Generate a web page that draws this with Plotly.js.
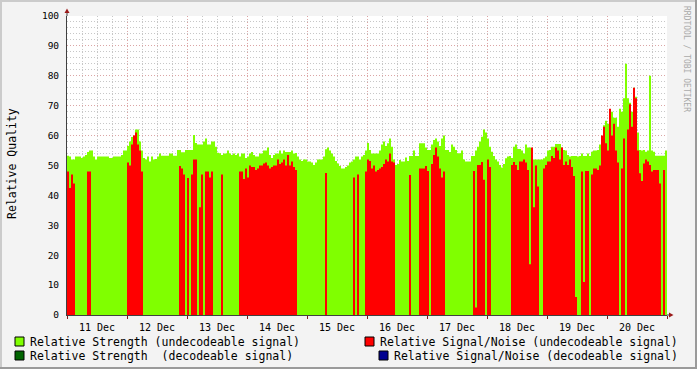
<!DOCTYPE html>
<html>
<head>
<meta charset="utf-8">
<script src="https://cdn.plot.ly/plotly-3.0.1.min.js"></script>
<style>html,body{margin:0;padding:0;background:#f3f3f3;}#chart{width:697px;height:369px;}</style>
</head>
<body>
<div id="chart"></div>
<script>
// Time base: 11 Dec 00:00, one sample every 48 minutes (300 samples = 10 days)
const startTime = Date.UTC(2013, 11, 11);
const endTime = Date.UTC(2013, 11, 21);
const stepMs = 48 * 60 * 1000;

// Relative Strength (undecodeable signal)
const strengthUndecodeable = [
  53.3,53,52,52,53,53,53,52.5,53,53.5,
  54.5,55,55,53,52,53,53,53,53,53,
  53,52.5,52.5,53,53,53,53,53.5,55,55,
  56.5,58,59.5,60,62,62,58,55,52.5,52,
  53,51.3,53,52,52.2,53,54,53.3,53.3,53.3,
  53.3,54,54,53.3,53.3,55.2,55.2,54.4,54.4,55.2,
  55.2,55.2,55.2,60.2,57.5,57,57,57,58,59,
  57,57,58,58,56.3,54.3,54.1,53.5,54,54,
  55,54,53.5,54,53.5,54,53,54,54,52.5,
  53,54,54.5,53.5,53,53,54,54,55,55,
  56,53.5,52.5,53.5,54,54,55,54,55,54.5,
  54.5,54.5,55,54,54.2,53,52,51.5,52,52,
  51.3,51.3,51,50.2,51,52,52,52,53,55.4,
  56,55,54,53,51.5,50.7,49.8,49,49,49.5,
  50,51,51.3,52,53,53,52,53,53.5,55,
  57.5,55.2,54,54,54,54,55,57,58,56.5,
  57.4,59,56.3,52,50.2,50.5,51.8,51.3,51.3,52.7,
  51.5,53.2,53.2,55,53.2,53.2,57.4,57.4,57.4,56,
  55.2,55.2,57,58.5,59,58,56.5,59,60,55.2,
  55.2,54.5,57,56.3,55.2,54.1,54.1,55,52,51.3,
  51.3,51.3,53.2,53.2,55,56.3,58,59.6,62,61,
  59,56.3,54.6,53.2,52,51.3,50.2,49.3,50.5,52.4,
  53,53.2,52.5,56.3,57,55.5,55.5,55,54,57,
  56,56,53,52,52,52,52,52,52.4,53,
  55,55.2,56.3,56.3,57.2,57.2,57.2,56,55.2,55,
  53.5,53,53.2,53.2,53.2,53,53.2,54,53.2,53.2,
  54,53.2,54.6,55,55,55.2,57,59,63.5,65,
  64,68,68,66,66,63,69,68,72.5,84,
  72.5,71,68,76,73,61,55.2,55,55.2,54.6,
  55,80,55,54.6,53.3,53.3,53.3,53.3,53.3,55
];

// Relative Signal/Noise (undecodeable signal)
const snrUndecodeable = [
  48,42.5,47,44,0,0,0,0,0,0,
  48,48,0,0,0,0,0,0,0,0,
  0,0,0,0,0,0,0,0,0,0,
  51,50,57,60,61,57,55,48,0,0,
  0,0,0,0,0,0,0,0,0,0,
  0,0,0,0,0,0,49.8,49,47,0,
  45.8,0,47,52,52,0,36,47,0,48,
  48,46,48,0,0,0,0,47,0,0,
  0,0,0,0,0,0,48,48,45.5,49,
  46,50,49.5,49.5,48.5,49,50,50,50.7,51,
  50,49,49.5,50,50,52,50.5,51,52,50,
  53.5,50,51.3,49.5,48.5,0,0,0,0,0,
  0,0,0,0,0,0,0,0,0,47.5,
  0,0,0,0,0,0,0,0,0,0,
  0,0,0,46,0,47,0,0,0,48,
  52,51.5,49,50,48,48.5,49,49.5,50.5,52,
  51.3,54,51.3,51,0,0,0,0,0,0,
  0,46.8,0,0,0,0,49,49,49,49.8,
  48.2,0,50.5,53.5,56,53,49,46,48,0,
  0,0,0,0,0,0,0,0,0,0,
  0,0,0,48.2,2.5,50.2,50.2,51.2,45.2,0,
  52,49.5,0,0,0,0,0,0,0,0,
  0,0,50.2,51.2,50.2,48.5,51.3,51.3,52,51,
  48.5,17,56,36,50,43,0,0,49,50.2,
  51.3,51.3,53.2,52.5,56,55,52,56,50.2,51.3,
  50.2,52,49.5,46.5,6,0,0,48,11,48.2,
  48.2,0,47,49,49,48.5,50,60,63,57.4,
  55,69,60,64,55,51,0,49,59,0,
  62,70.5,63,76,72.5,55,47.4,44.8,50.7,52,
  51.3,50.2,48,48.5,48.5,48.5,44,0,48.5,0
];

const legendLabels = [
  'Relative Strength (undecodeable signal)',
  'Relative Signal/Noise (undecodeable signal)',
  'Relative Strength \u00a0(decodeable signal)',
  'Relative Signal/Noise (decodeable signal)'
];
const legendColors = ['#80ff00', '#ff0000', '#006400', '#000090'];

const sampleTimes = strengthUndecodeable.map((_, i) => startTime + i * stepMs);

const traces = [
  {type: 'bar', x: sampleTimes, y: strengthUndecodeable, width: stepMs, offset: 0,
   name: legendLabels[0], marker: {color: legendColors[0], line: {width: 0}}, hoverinfo: 'skip'},
  {type: 'bar', x: sampleTimes, y: snrUndecodeable, width: stepMs, offset: 0,
   name: legendLabels[1], marker: {color: legendColors[1], line: {width: 0}}, hoverinfo: 'skip'}
];

// helpers for paper coordinates from the plot box (600 x 299 px)
const W = 600, H = 299, L = 67, T = 16;
const px = X => (X - L) / W;
const py = Y => (T + H - Y) / H;

const mono = 'DejaVu Sans Mono, monospace';
const majorGrid = 'rgba(170,40,40,0.42)';
const minorGrid = 'rgba(130,130,130,0.45)';

const shapes = [];
const annotations = [];

// legend boxes and labels
const legendPos = [
  {sx: 15, sy: 337, tx: 28},
  {sx: 365, sy: 337, tx: 378},
  {sx: 15, sy: 351, tx: 28},
  {sx: 379, sy: 351, tx: 392}
];
legendPos.forEach((p, k) => {
  shapes.push({type: 'rect', xref: 'paper', yref: 'paper',
    x0: px(p.sx), x1: px(p.sx + 9), y0: py(p.sy + 9), y1: py(p.sy),
    fillcolor: legendColors[k], line: {color: '#000', width: 1}});
  annotations.push({xref: 'paper', yref: 'paper', x: px(p.tx), y: py(p.sy + 4.5),
    xanchor: 'left', yanchor: 'middle', showarrow: false, text: legendLabels[k],
    font: {family: mono, size: 11.5, color: '#000'}});
});

// axis arrows
shapes.push({type: 'line', xref: 'paper', yref: 'paper', x0: 0, x1: 0, y0: 1, y1: py(12),
  line: {color: '#404040', width: 1}});
shapes.push({type: 'path', xref: 'paper', yref: 'paper',
  path: `M ${px(64.5)} ${py(13)} L ${px(69.5)} ${py(13)} L ${px(67)} ${py(8.5)} Z`,
  fillcolor: '#9a1a1a', line: {width: 0}});
shapes.push({type: 'line', xref: 'paper', yref: 'paper', x0: 1, x1: px(670), y0: 0, y1: 0,
  line: {color: '#404040', width: 1}});
shapes.push({type: 'path', xref: 'paper', yref: 'paper',
  path: `M ${px(669)} ${py(312.5)} L ${px(669)} ${py(317.5)} L ${px(673.5)} ${py(315)} Z`,
  fillcolor: '#9a1a1a', line: {width: 0}});

// outer frame
shapes.push({type: 'line', xref: 'paper', yref: 'paper', x0: px(0), x1: px(697), y0: py(0), y1: py(0), line: {color: '#cbcbcb', width: 4}});
shapes.push({type: 'line', xref: 'paper', yref: 'paper', x0: px(0), x1: px(0), y0: py(0), y1: py(369), line: {color: '#cbcbcb', width: 4}});
shapes.push({type: 'line', xref: 'paper', yref: 'paper', x0: px(0), x1: px(697), y0: py(369), y1: py(369), line: {color: '#9a9a9a', width: 4}});
shapes.push({type: 'line', xref: 'paper', yref: 'paper', x0: px(697), x1: px(697), y0: py(0), y1: py(369), line: {color: '#9a9a9a', width: 4}});

// y title
annotations.push({xref: 'paper', yref: 'paper', x: px(12), y: py(164), textangle: -90,
  xanchor: 'center', yanchor: 'middle', showarrow: false, text: 'Relative Quality',
  font: {family: mono, size: 11.5, color: '#000'}});
// watermark
annotations.push({xref: 'paper', yref: 'paper', x: px(687), y: py(59), textangle: 90,
  xanchor: 'center', yanchor: 'middle', showarrow: false, text: 'RRDTOOL / TOBI OETIKER',
  font: {family: mono, size: 8, color: '#aaaaaa'}});

const layout = {
  width: 697, height: 369,
  margin: {l: 67, r: 30, t: 16, b: 54, pad: 0},
  paper_bgcolor: '#f3f3f3', plot_bgcolor: '#ffffff',
  barmode: 'overlay', showlegend: false,
  font: {family: mono, size: 10, color: '#000'},
  xaxis: {
    type: 'date', range: [startTime, endTime], tick0: startTime, dtick: 86400000,
    tickformat: '%d %b', ticklabelmode: 'period',
    showgrid: true, gridcolor: majorGrid, griddash: '1px,2px', gridwidth: 1,
    minor: {dtick: 6 * 3600000, showgrid: true, gridcolor: minorGrid, griddash: '1px,2px', ticks: ''},
    ticks: 'outside', ticklen: 3, tickcolor: '#7f1d1d', tickwidth: 1,
    showline: true, linecolor: '#404040', linewidth: 1, zeroline: false,
    tickfont: {family: mono, size: 10, color: '#000'}
  },
  yaxis: {
    range: [0, 100], tick0: 0, dtick: 10,
    showgrid: true, gridcolor: majorGrid, griddash: '1px,2px', gridwidth: 1,
    minor: {dtick: 2, showgrid: true, gridcolor: minorGrid, griddash: '1px,2px', ticks: ''},
    ticks: '', showline: true, linecolor: '#404040', linewidth: 1, zeroline: false,
    ticklabelstandoff: 5,
    tickfont: {family: mono, size: 9.5, color: '#000'}
  },
  shapes: shapes,
  annotations: annotations
};

Plotly.newPlot('chart', traces, layout, {staticPlot: true, displayModeBar: false});
</script>
</body>
</html>
